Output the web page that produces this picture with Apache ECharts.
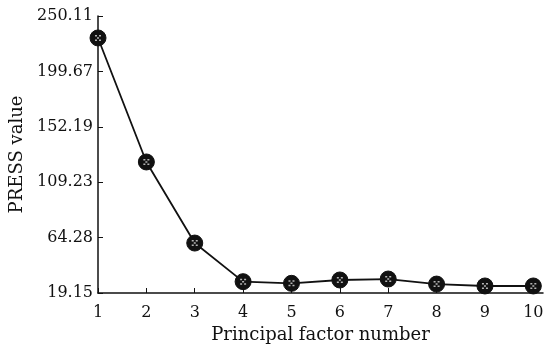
<!DOCTYPE html>
<html>
<head>
<meta charset="utf-8">
<script src="https://cdn.jsdelivr.net/npm/echarts@6/dist/echarts.min.js"></script>
<style>
html,body{margin:0;padding:0;background:#fff;}
#chart{width:554px;height:346px;}
</style>
</head>
<body>
<div id="chart"></div>
<script>
// 主成分数 vs PRESS
var factors = [1, 2, 3, 4, 5, 6, 7, 8, 9, 10];
var pressValues = [231.8, 128.4, 60.8, 28.6, 27.2, 30.0, 30.8, 26.6, 25.0, 25.0];
var yTickLabels = ['19.15', '64.28', '109.23', '152.19', '199.67', '250.11'];

(function(){
var chart = echarts.init(document.getElementById('chart'));

var yMin = 19.15, yMax = 250.11;
var yStep = (yMax - yMin) / (yTickLabels.length - 1);
var font = 'DejaVu Serif';

var points = [];
for (var i = 0; i < factors.length; i++) {
    points.push([factors[i], pressValues[i]]);
}

option = {
    animation: false,
    backgroundColor: '#fff',
    grid: {
        left: 98,
        right: 11,
        top: 16,
        bottom: 53,
        outerBoundsMode: 'none'
    },
    xAxis: {
        type: 'value',
        min: 1,
        max: 10.2,
        interval: 1,
        name: 'Principal factor number',
        nameLocation: 'middle',
        nameGap: 24,
        nameTextStyle: { fontFamily: font, fontSize: 18, color: '#111' },
        axisLine: { lineStyle: { color: '#111', width: 1.5 } },
        axisTick: { inside: true, length: 5, lineStyle: { color: '#111' } },
        axisLabel: {
            fontFamily: font, fontSize: 16, color: '#111', margin: 12,
            showMaxLabel: false,
            formatter: function (v) { return Math.abs(v - Math.round(v)) < 1e-6 ? String(Math.round(v)) : ''; }
        },
        splitLine: { show: false }
    },
    yAxis: {
        type: 'value',
        min: yMin,
        max: yMax,
        interval: yStep,
        name: 'PRESS value',
        nameLocation: 'middle',
        nameGap: 66,
        nameTextStyle: { fontFamily: font, fontSize: 18, color: '#111' },
        axisLine: { show: true, lineStyle: { color: '#111', width: 1.5 } },
        axisTick: { show: true, inside: true, length: 5, lineStyle: { color: '#111' } },
        axisLabel: {
            fontFamily: font, fontSize: 16, color: '#111', margin: 5,
            formatter: function (v) {
                var k = Math.round((v - yMin) / yStep);
                return yTickLabels[k] || '';
            }
        },
        splitLine: { show: false }
    },
    series: [
        {
            name: 'PRESS',
            type: 'line',
            data: points,
            symbol: 'circle',
            symbolSize: 16,
            itemStyle: { color: '#111', borderColor: '#111' },
            lineStyle: { color: '#111', width: 1.8 }
        },
        {
            // 点上的小白纹
            name: 'mark',
            type: 'scatter',
            data: points,
            symbol: 'path://M0,0h2v2h-2zM4,0h2v2h-2zM2,3h2v2h-2zM0,6h2v2h-2zM4,6h2v2h-2z',
            symbolSize: 6,
            itemStyle: { color: '#ddd' },
            z: 5,
            silent: true
        }
    ]
};

chart.setOption(option);
})();
</script>
</body>
</html>
